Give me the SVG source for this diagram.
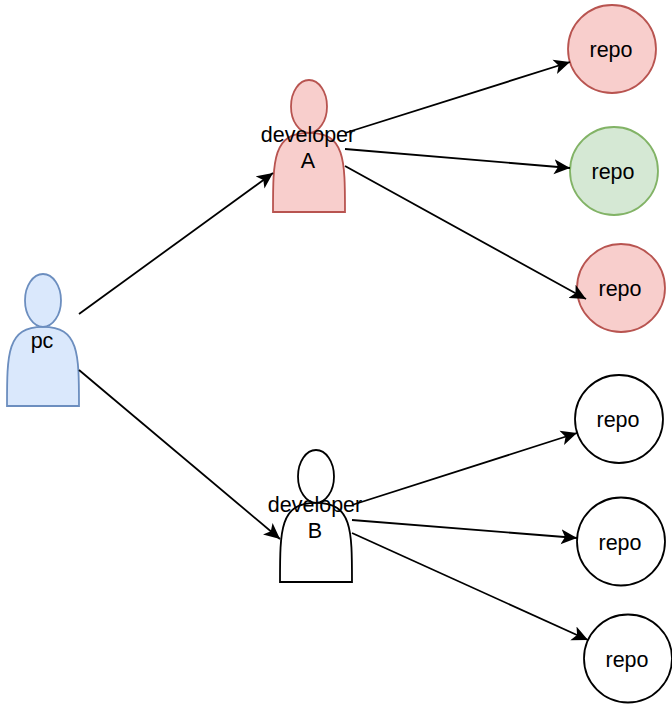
<svg xmlns="http://www.w3.org/2000/svg" width="672" height="706" viewBox="0 0 672 706">
<style>
text{font-family:"Liberation Sans",Arial,sans-serif;font-size:21.5px;fill:#000;text-anchor:middle}
.c{fill:none;stroke:#000;stroke-width:1.8;marker-end:url(#a)}
.s{stroke-width:1.8}
.red{fill:#f8cecc;stroke:#b85450}
.green{fill:#d5e8d4;stroke:#82b366}
.blue{fill:#dae8fc;stroke:#6c8ebf}
.plain{fill:#fff;stroke:#000}
</style>
<defs>
<marker id="a" markerUnits="userSpaceOnUse" markerWidth="18" markerHeight="16" refX="16" refY="8" orient="auto"><path d="M0 0.500L16 8L0 15.500L4 8Z" fill="#000"/></marker>
<path id="body" d="M0 132C0 79.200 0 52.800 36 52.800C72 52.800 72 79.200 72 132Z"/>
</defs>
<g id="pc"><use href="#body" x="7" y="274" class="blue s"/><ellipse cx="43" cy="300.400" rx="18" ry="26.400" class="blue s"/><text x="42" y="347.500">pc</text></g>
<g id="devA"><use href="#body" x="273" y="80" class="red s"/><ellipse cx="309" cy="106.400" rx="18" ry="26.400" class="red s"/><text x="308" y="141.500">developer</text><text x="308" y="167.500">A</text></g>
<g id="devB"><use href="#body" x="280" y="450" class="plain s"/><ellipse cx="316" cy="476.400" rx="18" ry="26.400" class="plain s"/><text x="315" y="511.500">developer</text><text x="315" y="537.500">B</text></g>
<g id="r1"><circle cx="612" cy="49" r="44" class="red s"/><text x="611" y="56.500">repo</text></g>
<g id="r2"><circle cx="614" cy="171" r="44" class="green s"/><text x="613" y="178.500">repo</text></g>
<g id="r3"><circle cx="621" cy="288" r="44" class="red s"/><text x="620" y="295.500">repo</text></g>
<g id="r4"><circle cx="619" cy="419" r="44" class="plain s"/><text x="618" y="426.500">repo</text></g>
<g id="r5"><circle cx="621" cy="541.500" r="44" class="plain s"/><text x="620" y="549.500">repo</text></g>
<g id="r6"><circle cx="628" cy="658.500" r="44" class="plain s"/><text x="627" y="666.500">repo</text></g>
<g id="connectors">
<path class="c" d="M79 314L273 173"/>
<path class="c" d="M79 370L280 539"/>
<path class="c" d="M345 133L570 62"/>
<path class="c" d="M345 149L570 168"/>
<path class="c" d="M345 166L586 299"/>
<path class="c" d="M352 505L577 433"/>
<path class="c" d="M352 520L577 538"/>
<path class="c" d="M352 533L588 640"/>
</g>
</svg>
